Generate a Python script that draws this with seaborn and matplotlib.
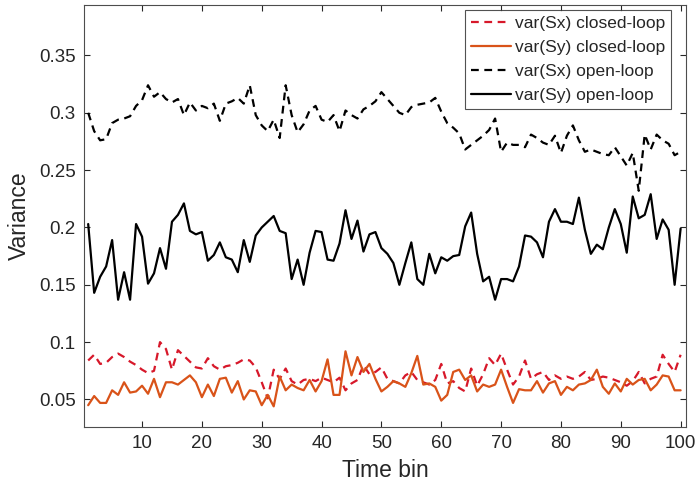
import numpy as np
import pandas as pd
import matplotlib
matplotlib.use("Agg")
import matplotlib.pyplot as plt
import seaborn as sns

# time bins 1..100
timeBins = list(range(1, 101))

sxClosed = [0.084, 0.089, 0.081, 0.082, 0.087, 0.090, 0.087, 0.083, 0.080, 0.076,
            0.073, 0.075, 0.100, 0.094, 0.076, 0.093, 0.088, 0.083, 0.078, 0.077,
            0.086, 0.079, 0.076, 0.079, 0.080, 0.082, 0.085, 0.084, 0.078, 0.065,
            0.051, 0.076, 0.068, 0.077, 0.066, 0.063, 0.067, 0.068, 0.066, 0.069,
            0.067, 0.065, 0.069, 0.058, 0.064, 0.067, 0.080, 0.072, 0.074, 0.078,
            0.068, 0.066, 0.064, 0.071, 0.074, 0.067, 0.065, 0.063, 0.067, 0.081,
            0.064, 0.066, 0.060, 0.057, 0.077, 0.062, 0.072, 0.086, 0.080, 0.090,
            0.076, 0.063, 0.070, 0.084, 0.068, 0.072, 0.074, 0.067, 0.071, 0.068,
            0.070, 0.068, 0.070, 0.074, 0.067, 0.068, 0.070, 0.069, 0.067, 0.065,
            0.062, 0.066, 0.074, 0.064, 0.068, 0.070, 0.089, 0.081, 0.074, 0.089]

syClosed = [0.045, 0.053, 0.047, 0.047, 0.058, 0.054, 0.065, 0.056, 0.057, 0.062,
            0.055, 0.068, 0.052, 0.065, 0.065, 0.063, 0.067, 0.071, 0.065, 0.052,
            0.063, 0.053, 0.068, 0.069, 0.056, 0.066, 0.050, 0.058, 0.057, 0.045,
            0.054, 0.044, 0.070, 0.058, 0.063, 0.060, 0.058, 0.067, 0.057, 0.066,
            0.085, 0.054, 0.054, 0.092, 0.071, 0.087, 0.074, 0.081, 0.068, 0.057,
            0.061, 0.066, 0.064, 0.061, 0.073, 0.088, 0.063, 0.064, 0.061, 0.049,
            0.054, 0.074, 0.076, 0.067, 0.071, 0.057, 0.063, 0.061, 0.063, 0.076,
            0.061, 0.047, 0.059, 0.058, 0.058, 0.066, 0.056, 0.064, 0.066, 0.054,
            0.061, 0.058, 0.063, 0.064, 0.067, 0.076, 0.061, 0.055, 0.064, 0.057,
            0.068, 0.063, 0.067, 0.068, 0.058, 0.063, 0.071, 0.070, 0.058, 0.058]

sxOpen = [0.300, 0.284, 0.276, 0.277, 0.291, 0.294, 0.295, 0.297, 0.306, 0.311,
          0.324, 0.314, 0.318, 0.312, 0.309, 0.312, 0.298, 0.309, 0.302, 0.306,
          0.304, 0.308, 0.293, 0.308, 0.310, 0.313, 0.308, 0.324, 0.298, 0.289,
          0.284, 0.294, 0.278, 0.324, 0.298, 0.283, 0.290, 0.302, 0.306, 0.294,
          0.292, 0.298, 0.284, 0.302, 0.298, 0.295, 0.303, 0.306, 0.310, 0.318,
          0.312, 0.306, 0.300, 0.298, 0.305, 0.307, 0.308, 0.309, 0.313, 0.301,
          0.291, 0.287, 0.282, 0.268, 0.272, 0.276, 0.280, 0.285, 0.295, 0.266,
          0.274, 0.272, 0.272, 0.270, 0.281, 0.278, 0.274, 0.272, 0.280, 0.265,
          0.280, 0.289, 0.276, 0.266, 0.268, 0.266, 0.264, 0.263, 0.270, 0.262,
          0.254, 0.265, 0.232, 0.281, 0.268, 0.281, 0.276, 0.273, 0.263, 0.266]

syOpen = [0.203, 0.143, 0.157, 0.166, 0.189, 0.137, 0.161, 0.137, 0.203, 0.192,
          0.151, 0.160, 0.182, 0.164, 0.205, 0.211, 0.221, 0.197, 0.194, 0.196,
          0.171, 0.176, 0.187, 0.174, 0.172, 0.161, 0.189, 0.170, 0.193, 0.200,
          0.205, 0.210, 0.197, 0.195, 0.155, 0.172, 0.150, 0.178, 0.197, 0.196,
          0.172, 0.171, 0.186, 0.215, 0.190, 0.206, 0.179, 0.194, 0.196, 0.182,
          0.177, 0.169, 0.150, 0.169, 0.187, 0.155, 0.150, 0.177, 0.160, 0.174,
          0.171, 0.175, 0.176, 0.201, 0.213, 0.177, 0.153, 0.157, 0.137, 0.155,
          0.155, 0.153, 0.166, 0.193, 0.192, 0.187, 0.174, 0.205, 0.216, 0.205,
          0.205, 0.203, 0.226, 0.198, 0.177, 0.185, 0.181, 0.200, 0.216, 0.203,
          0.178, 0.227, 0.208, 0.211, 0.229, 0.190, 0.207, 0.198, 0.150, 0.199]

seriesNames = ['var(Sx) closed-loop', 'var(Sy) closed-loop',
               'var(Sx) open-loop', 'var(Sy) open-loop']
seriesColors = ['#D7182A', '#D95319', 'black', 'black']
seriesDashes = [(3.5, 2.5), '', (3.5, 2.5), '']

frames = []
for name, vals in zip(seriesNames, [sxClosed, syClosed, sxOpen, syOpen]):
    frames.append(pd.DataFrame({'bin': timeBins, 'var': vals, 'series': name}))
df = pd.concat(frames, ignore_index=True)

sns.set_style('ticks')
plt.rcParams['font.family'] = ['Liberation Sans', 'DejaVu Sans']

fig = plt.figure(figsize=(6.96, 4.90), dpi=100)
ax = fig.add_axes([84 / 696, 1 - 427 / 490, 602 / 696, 422 / 490])

sns.lineplot(data=df, x='bin', y='var', hue='series', style='series',
             hue_order=seriesNames, style_order=seriesNames,
             palette=dict(zip(seriesNames, seriesColors)),
             dashes=dict(zip(seriesNames, seriesDashes)),
             linewidth=1.6, ax=ax)

ax.set_xlim(0.3, 100.9)
ax.set_ylim(0.026, 0.394)
ax.set_xticks(range(10, 101, 10))
ax.set_yticks([0.05, 0.1, 0.15, 0.2, 0.25, 0.3, 0.35])
ax.set_yticklabels(['0.05', '0.1', '0.15', '0.2', '0.25', '0.3', '0.35'])
ax.tick_params(direction='in', top=True, right=True, length=4, width=0.8,
               labelsize=13.5, colors='#262626', pad=6)
for sp in ax.spines.values():
    sp.set_color('#4d4d4d')
    sp.set_linewidth(0.8)

ax.set_xlabel('Time bin', fontsize=16.5, color='#262626', labelpad=5)
ax.set_ylabel('Variance', fontsize=16.5, color='#262626', labelpad=6)

handles, labels = ax.get_legend_handles_labels()
leg = ax.legend(handles, labels, loc='upper right', bbox_to_anchor=(0.975, 0.988),
                fontsize=12.5, frameon=True, fancybox=False, edgecolor='#262626',
                handlelength=2.3, handletextpad=0.2, labelspacing=0.5,
                borderpad=0.35, borderaxespad=0)
leg.get_frame().set_linewidth(0.8)
for t in leg.get_texts():
    t.set_color('#262626')

fig.savefig('out.png', dpi=100)
